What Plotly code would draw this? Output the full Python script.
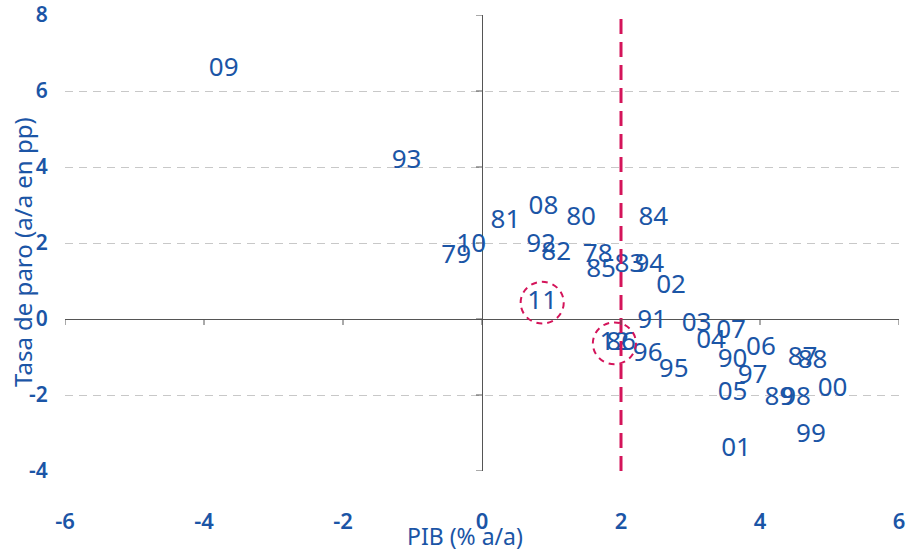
import plotly.graph_objects as go

# Data
years = ["78", "79", "80", "81", "82", "83", "84", "85", "86", "87", "88", "89",
         "90", "91", "92", "93", "94", "95", "96", "97", "98", "99", "00", "01",
         "02", "03", "04", "05", "06", "07", "08", "09", "10", "11", "12"]
pib = [1.665, -0.371, 1.426, 0.338, 1.067, 2.121, 2.466, 1.714, 2.001, 4.612, 4.756, 4.278,
       3.606, 2.447, 0.851, -1.086, 2.408, 2.758, 2.384, 3.894, 4.518, 4.733, 5.044, 3.655,
       2.720, 3.088, 3.295, 3.606, 4.014, 3.583, 0.884, -3.717, -0.155, 0.866, 1.905]
paro = [1.684, 1.639, 2.650, 2.561, 1.711, 1.395, 2.650, 1.289, -0.639, -1.034, -1.124, -2.087,
        -1.079, -0.071, 1.947, 4.158, 1.395, -1.342, -0.947, -1.518, -2.087, -3.053, -1.868, -3.447,
        0.850, -0.132, -0.597, -1.955, -0.771, -0.334, 2.939, 6.579, 1.947, 0.429, -0.639]

x_ticks = [-6, -4, -2, 0, 2, 4, 6]
x_ticklabels = ["-6", "-4", "-2", "0", "2", "4", "6"]
y_ticks = [-4, -2, 0, 2, 4, 6, 8]
y_ticklabels = ["-4", "-2", "0", "2", "4", "6", "8"]
threshold = 2
highlight = ["11", "12"]

BLUE = "#1b55a6"
RED = "#d4145a"
AXIS = "#555555"

fig = go.Figure()
fig.add_trace(go.Scatter(
    x=pib, y=paro, text=years, mode="text",
    textposition="middle center",
    textfont=dict(family="Noto Sans", size=26, color=BLUE),
    hoverinfo="skip", showlegend=False,
))

shapes = []
# vertical threshold line
shapes.append(dict(type="line", xref="x", yref="y", x0=threshold, x1=threshold,
                   y0=y_ticks[0], y1=y_ticks[-1],
                   line=dict(color=RED, width=3, dash="15px,8px"), layer="above"))
# small tick marks on the crossing axes
for xv in x_ticks:
    shapes.append(dict(type="line", xref="x", yref="y", ysizemode="pixel", yanchor=0,
                       x0=xv, x1=xv, y0=0, y1=-6, line=dict(color=AXIS, width=1)))
for yv in y_ticks:
    shapes.append(dict(type="line", xref="x", yref="y", xsizemode="pixel", xanchor=0,
                       x0=-6, x1=0, y0=yv, y1=yv, line=dict(color=AXIS, width=1)))
# dashed circles around highlighted years
for yr in highlight:
    i = years.index(yr)
    cx, cy = pib[i], paro[i]
    shapes.append(dict(type="circle", xref="x", yref="y",
                       x0=cx - 0.31, x1=cx + 0.31, y0=cy - 0.55, y1=cy + 0.55,
                       line=dict(color=RED, width=2, dash="6px,5px")))

fig.update_layout(
    width=906, height=552,
    margin=dict(l=65, r=7, t=15, b=81),
    plot_bgcolor="white", paper_bgcolor="white",
    shapes=shapes,
    xaxis=dict(range=[-6, 6], tickvals=x_ticks, ticktext=x_ticklabels, showgrid=False,
               automargin=False,
               zeroline=True, zerolinecolor=AXIS, zerolinewidth=1,
               showline=False, ticks="outside", ticklen=31, tickcolor="rgba(0,0,0,0)",
               tickfont=dict(family="Noto Sans", size=22, color=BLUE, weight=600)),
    yaxis=dict(range=[-4, 8], tickvals=y_ticks, ticktext=y_ticklabels, showgrid=True,
               automargin=False,
               gridcolor="#c8c8c8", gridwidth=1, griddash="8px,6px",
               zeroline=True, zerolinecolor=AXIS, zerolinewidth=1,
               showline=False, ticks="outside", ticklen=12, tickcolor="rgba(0,0,0,0)",
               tickfont=dict(family="Noto Sans", size=21, color=BLUE, weight=600)),
    annotations=[
        dict(text="PIB (% a/a)", xref="paper", yref="paper", x=(464.5 - 65) / 834, y=-(536 - 471) / 456,
             xanchor="center", yanchor="middle", showarrow=False,
             font=dict(family="Noto Sans", size=23, color=BLUE)),
        dict(text="Tasa de paro (a/a en pp)", xref="paper", yref="paper",
             x=-(65 - 22) / 834, y=(471 - 252) / 456, textangle=-90,
             xanchor="center", yanchor="middle", showarrow=False,
             font=dict(family="Noto Sans", size=24, color=BLUE)),
    ],
)

fig.write_html("out.html",
               config={"displayModeBar": False},
               post_script="document.body.style.margin='0';document.body.style.overflow='hidden';")
